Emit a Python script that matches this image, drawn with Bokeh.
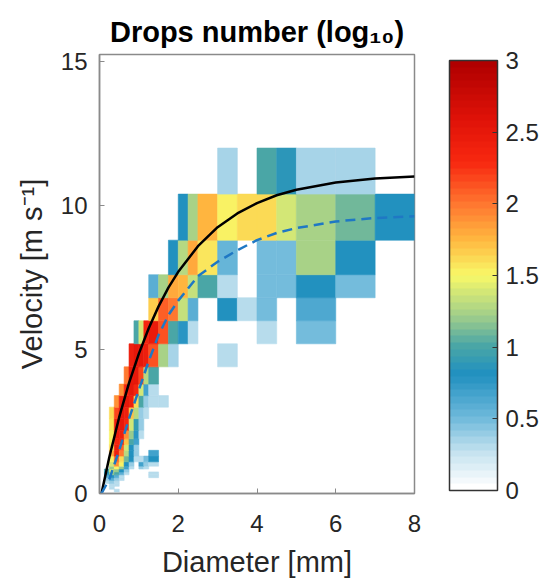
import numpy as np
from bokeh.plotting import figure
from bokeh.models import ColorBar, LinearColorMapper, FixedTicker, ColumnDataSource
from bokeh.embed import file_html
from bokeh.resources import INLINE

# ---------------- data ----------------
# Diameter class edges [mm] (Parsivel classes)
diameter_edges = [0, 0.125, 0.25, 0.375, 0.5, 0.625, 0.75, 0.875, 1.0, 1.125,
                  1.25, 1.5, 1.75, 2.0, 2.25, 2.5, 3.0, 3.5, 4.0, 4.5, 5.0,
                  6.0, 7.0, 8.0]
# Velocity grid [m/s] (class centres used as cell edges)
velocity_edges = [0.05, 0.15, 0.25, 0.35, 0.45, 0.55, 0.65, 0.75, 0.85, 0.95,
                  1.1, 1.3, 1.5, 1.7, 1.9, 2.2, 2.6, 3.0, 3.4, 3.8, 4.4, 5.2,
                  6.0, 6.8, 7.6, 8.8, 10.4, 12.0]
N = None
# log10(drop number); one row per velocity cell (bottom -> top),
# one column per diameter class
log10_counts = [
    # c0 c1   c2   c3   c4   c5   c6   c7   c8   c9   c10  c11  c12  c13  c14  c15  c16  c17  c18  c19  c20  c21  c22
    [N, N, N, 0.3, N, N, N, N, N, N, N, N, N, N, N, N, N, N, N, N, N, N, N],
    [N, N, 0.3, N, N, N, N, N, N, N, N, N, N, N, N, N, N, N, N, N, N, N, N],
    [N, N, 0.3, 0.3, N, N, N, N, N, N, N, N, N, N, N, N, N, N, N, N, N, N, N],
    [N, 0.3, 0.4, 0.3, N, N, N, N, N, N, N, N, N, N, N, N, N, N, N, N, N, N, N],
    [N, 0.4, 0.6, 0.4, 0.3, N, N, N, N, N, N, N, N, N, N, N, N, N, N, N, N, N, N],
    [N, 0.6, 0.8, 0.6, 0.3, N, N, N, N, N, 0.3, N, N, N, N, N, N, N, N, N, N, N, N],
    [N, 0.8, 1.2, 1.0, 0.6, 0.3, N, N, N, N, 0.3, N, N, N, N, N, N, N, N, N, N, N, N],
    [N, 0.9, 1.4, 1.2, 0.8, 0.4, N, N, N, N, N, N, N, N, N, N, N, N, N, N, N, N, N],
    [N, N, 1.2, 1.5, 1.2, 0.7, 0.3, N, 0.4, 0.3, N, N, N, N, N, N, N, N, N, N, N, N, N],
    [N, N, 1.4, 1.9, 1.5, 0.8, 0.4, N, 0.7, 0.4, 0.3, N, N, N, N, N, N, N, N, N, N, N, N],
    [N, N, 1.5, 2.1, 1.6, 1.1, 0.8, 0.3, 0.3, 0.5, 0.8, N, N, N, N, N, N, N, N, N, N, N, N],
    [N, N, 1.8, 2.4, 2.0, 1.3, 0.8, 0.4, N, N, 0.7, N, N, N, N, N, N, N, N, N, N, N, N],
    [N, N, 1.6, 2.4, 2.1, 1.4, 0.8, 0.4, N, N, N, N, N, N, N, N, N, N, N, N, N, N, N],
    [N, N, 1.5, 2.3, 2.3, 1.7, 1.0, 0.7, N, N, N, N, N, N, N, N, N, N, N, N, N, N, N],
    [N, N, 1.5, 2.4, 2.4, 1.9, 1.2, 0.75, 0.3, N, N, N, N, N, N, N, N, N, N, N, N, N, N],
    [N, N, 1.55, 2.4, 2.5, 2.3, 1.4, 0.9, 0.4, N, N, N, N, N, N, N, N, N, N, N, N, N, N],
    [N, N, 1.6, 2.2, 2.5, 2.4, 1.7, 1.3, 0.4, 0.3, N, N, N, N, N, N, N, N, N, N, N, N, N],
    [N, N, N, 1.9, 2.4, 2.5, 2.4, 1.6, 1.0, 0.4, 0.3, 0.3, N, N, N, N, N, N, N, N, N, N, N],
    [N, N, N, N, 1.9, 2.3, 2.5, 2.3, 1.4, 0.7, 0.3, N, N, N, N, N, N, N, N, N, N, N, N],
    [N, N, N, N, N, 2.0, 2.5, 2.5, 2.2, 1.3, 1.0, N, N, N, N, N, N, N, N, N, N, N, N],
    [N, N, N, N, N, N, 2.4, 2.5, 2.5, 2.4, 2.15, 1.25, 0.35, N, N, N, 0.3, N, N, N, N, N, N],
    [N, N, N, N, N, N, N, 1.0, 1.4, 2.3, 2.45, 2.15, 1.0, 0.75, 0.3, N, N, N, 0.3, N, 0.5, N, N],
    [N, N, N, N, N, N, N, N, N, N, 1.65, 2.1, 2.0, 1.35, 0.6, N, 0.8, 0.3, 0.5, N, 0.65, N, N],
    [N, N, N, N, N, N, N, N, N, N, 0.6, 1.25, 1.8, 1.75, 1.35, 1.0, 0.3, N, 0.5, 0.5, 0.8, 0.5, N],
    [N, N, N, N, N, N, N, N, N, N, N, N, 0.8, 1.3, 1.8, 1.55, 0.55, N, 0.5, 0.5, 1.25, 0.8, N],
    [N, N, N, N, N, N, N, N, N, N, N, N, N, 0.8, 1.25, 1.75, 1.5, 1.6, 1.6, 1.4, 1.25, 1.1, 0.8],
    [N, N, N, N, N, N, N, N, N, N, N, N, N, N, N, N, 0.35, N, 1.0, 0.85, 0.35, 0.35, N],
]

# Terminal-velocity curves
curve_diameter = [0.05, 0.25, 0.5, 0.75, 1.0, 1.25, 1.5, 1.75, 2.0, 2.5, 3.0,
                  3.5, 4.0, 4.5, 5.0, 6.0, 7.0, 8.0]
curve_solid = [0, 1.27, 2.65, 3.84, 4.86, 5.74, 6.5, 7.15, 7.7, 8.59, 9.25,
               9.73, 10.09, 10.36, 10.55, 10.8, 10.94, 11.01]
curve_dashed = [0, 0.5, 1.5, 2.6, 3.6, 4.6, 5.5, 6.2, 6.7, 7.55, 8.05,
                8.45, 8.8, 9.05, 9.22, 9.45, 9.57, 9.63]

colorbar_ticks = [0, 0.5, 1, 1.5, 2, 2.5, 3]
colorbar_labels = ["0", "0.5", "1", "1.5", "2", "2.5", "3"]

# ---------------- colour map ----------------
cmap_pos = [0.0, 0.25, 0.5, 0.8, 1.0, 1.2, 1.5, 1.75, 2.0, 2.3, 2.6, 3.0]
cmap_col = ["#ffffff", "#c4e2ef", "#6cb8da", "#2090c0", "#4aa6a6", "#9ccc8c",
            "#f8f868", "#ffb840", "#ff7830", "#f82810", "#e01208", "#b00000"]


def _hex(c):
    return np.array([int(c[i:i + 2], 16) for i in (1, 3, 5)], dtype=float)


rgb = np.array([_hex(c) for c in cmap_col])
levels = np.linspace(0, 3, 64)
palette = []
for lv in levels:
    r = np.interp(lv, cmap_pos, rgb[:, 0])
    g = np.interp(lv, cmap_pos, rgb[:, 1])
    b = np.interp(lv, cmap_pos, rgb[:, 2])
    palette.append("#%02x%02x%02x" % (int(round(r)), int(round(g)), int(round(b))))

mapper = LinearColorMapper(palette=palette, low=0, high=3)

left, right, bottom, top, vals = [], [], [], [], []
for i, row in enumerate(log10_counts):
    for j, v in enumerate(row):
        if v is None:
            continue
        left.append(diameter_edges[j])
        right.append(diameter_edges[j + 1])
        bottom.append(velocity_edges[i])
        top.append(velocity_edges[i + 1])
        vals.append(v)
src = ColumnDataSource(dict(left=left, right=right, bottom=bottom, top=top, val=vals))

FONT = "Liberation Sans"
TXT = "#262626"

p = figure(frame_width=315, frame_height=439, x_range=(0, 8), y_range=(0, 15.25),
           output_backend="svg", toolbar_location=None,
           min_border_left=99, min_border_top=54, min_border_bottom=83,
           min_border_right=10)
p.grid.visible = False
p.background_fill_color = "white"
p.outline_line_color = "#8a8a8a"
p.outline_line_width = 1.5

p.quad(left="left", right="right", bottom="bottom", top="top", source=src,
       fill_color={"field": "val", "transform": mapper},
       line_color={"field": "val", "transform": mapper}, line_width=0.6)

p.line(curve_diameter, curve_solid, line_color="black", line_width=2.5)
p.line(curve_diameter, curve_dashed, line_color="#1f78c4", line_width=2.5,
       line_dash="10 6")

# title (log base as subscript)
p.title.text = "Drops number (log\u2081\u2080)"
p.title.align = "center"
p.title.text_font = FONT
p.title.text_font_size = "29px"
p.title.text_font_style = "bold"
p.title.text_color = "black"
p.title.standoff = 13

for ax in (p.xaxis[0], p.yaxis[0]):
    ax.axis_line_color = "#8a8a8a"
    ax.axis_line_width = 1.5
    ax.major_tick_line_color = "#8a8a8a"
    ax.major_tick_in = 5
    ax.major_tick_out = 0
    ax.minor_tick_line_color = None
    ax.major_label_text_font = FONT
    ax.major_label_text_font_size = "24px"
    ax.major_label_text_color = TXT
    ax.axis_label_text_font = FONT
    ax.axis_label_text_font_size = "29px"
    ax.axis_label_text_font_style = "normal"
    ax.axis_label_text_color = TXT
p.xaxis.ticker = FixedTicker(ticks=[0, 2, 4, 6, 8])
p.yaxis.ticker = FixedTicker(ticks=[0, 5, 10, 15])
p.xaxis.major_label_standoff = 21
p.yaxis.major_label_standoff = 12
p.xaxis.axis_label = "Diameter [mm]"
p.xaxis.axis_label_standoff = 11
p.yaxis.axis_label = "Velocity [m s\u207b\u00b9]"
p.yaxis.axis_label_standoff = 10

cb = ColorBar(color_mapper=mapper, ticker=FixedTicker(ticks=colorbar_ticks),
              major_label_overrides={t: l for t, l in zip(colorbar_ticks, colorbar_labels)},
              width=48, height=430, location=(35, 3), padding=0, margin=0,
              bar_line_color="#333333", bar_line_width=1.5,
              major_tick_line_color="#333333", major_tick_in=5, major_tick_out=0,
              major_label_text_font=FONT, major_label_text_font_size="24px",
              major_label_text_color=TXT, label_standoff=8,
              border_line_color=None, background_fill_color=None)
p.add_layout(cb, "right")

open("out.html", "w").write(file_html(p, INLINE))
